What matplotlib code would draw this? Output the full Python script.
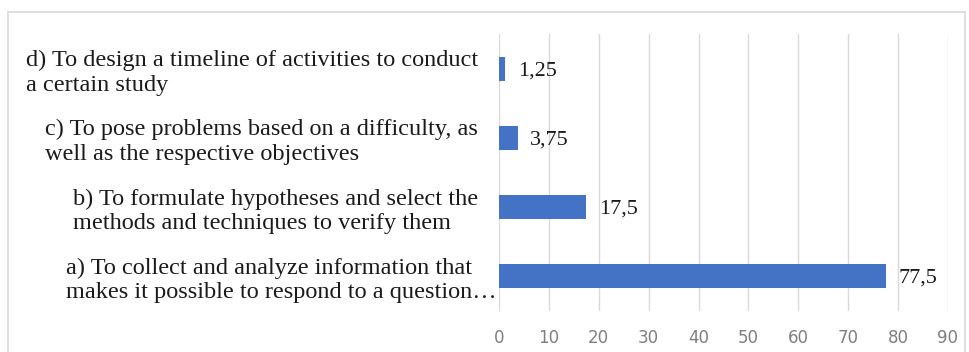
import matplotlib.pyplot as plt
from matplotlib.patches import Rectangle

# data (bottom to top)
labels = ["a) To collect and analyze information that\nmakes it possible to respond to a question\u2026",
          "b) To formulate hypotheses and select the\nmethods and techniques to verify them",
          "c) To pose problems based on a difficulty, as\nwell as the respective objectives",
          "d) To design a timeline of activities to conduct\na certain study"]
values = [77.5, 17.5, 3.75, 1.25]
value_text = ["77,5", "17,5", "3,75", "1,25"]
xticks = list(range(0, 100, 10))

W, H = 970, 352
fig = plt.figure(figsize=(W/100, H/100), dpi=100)
fig.patches.append(Rectangle((8/W, -0.1), 957/W, 1 - 12/H + 0.1, transform=fig.transFigure,
                             fill=False, edgecolor='#d9d9d9', lw=1.2))

# axes placed in pixel terms
ax = fig.add_axes([499/W, 1 - 311/H, 449/W, 277/H])
ypos = list(range(len(values)))
ax.barh(ypos, values, height=0.35, color='#4472C4')
ax.set_xlim(0, 90)
ax.set_ylim(-0.5, 3.5)
ax.set_xticks(xticks)
ax.tick_params(axis='x', length=0, colors='#7f7f7f', labelsize=12, pad=13)
ax.set_yticks([])
for s in ax.spines.values():
    s.set_visible(False)
ax.grid(axis='x', color='#d9d9d9', lw=1)
ax.set_axisbelow(True)

for y, v, t in zip(ypos, values, value_text):
    ax.annotate(t, (v, y), xytext=(9, -1.5), textcoords='offset points',
                va='center', ha='left', family='Liberation Serif', fontsize=16, color='#1a1a1a')

# the first label overflows to the axis edge (truncated text in the original)
offsets = [-1.5, -15, -15, -15]
for y, lab, off in zip(ypos, labels, offsets):
    ax.annotate(lab, (0, y), xytext=(off, -3), textcoords='offset points',
                va='center', ha='right', multialignment='left',
                family='Liberation Serif', fontsize=17.5, color='#1a1a1a', linespacing=1.22)

fig.savefig('out.png', dpi=100)
